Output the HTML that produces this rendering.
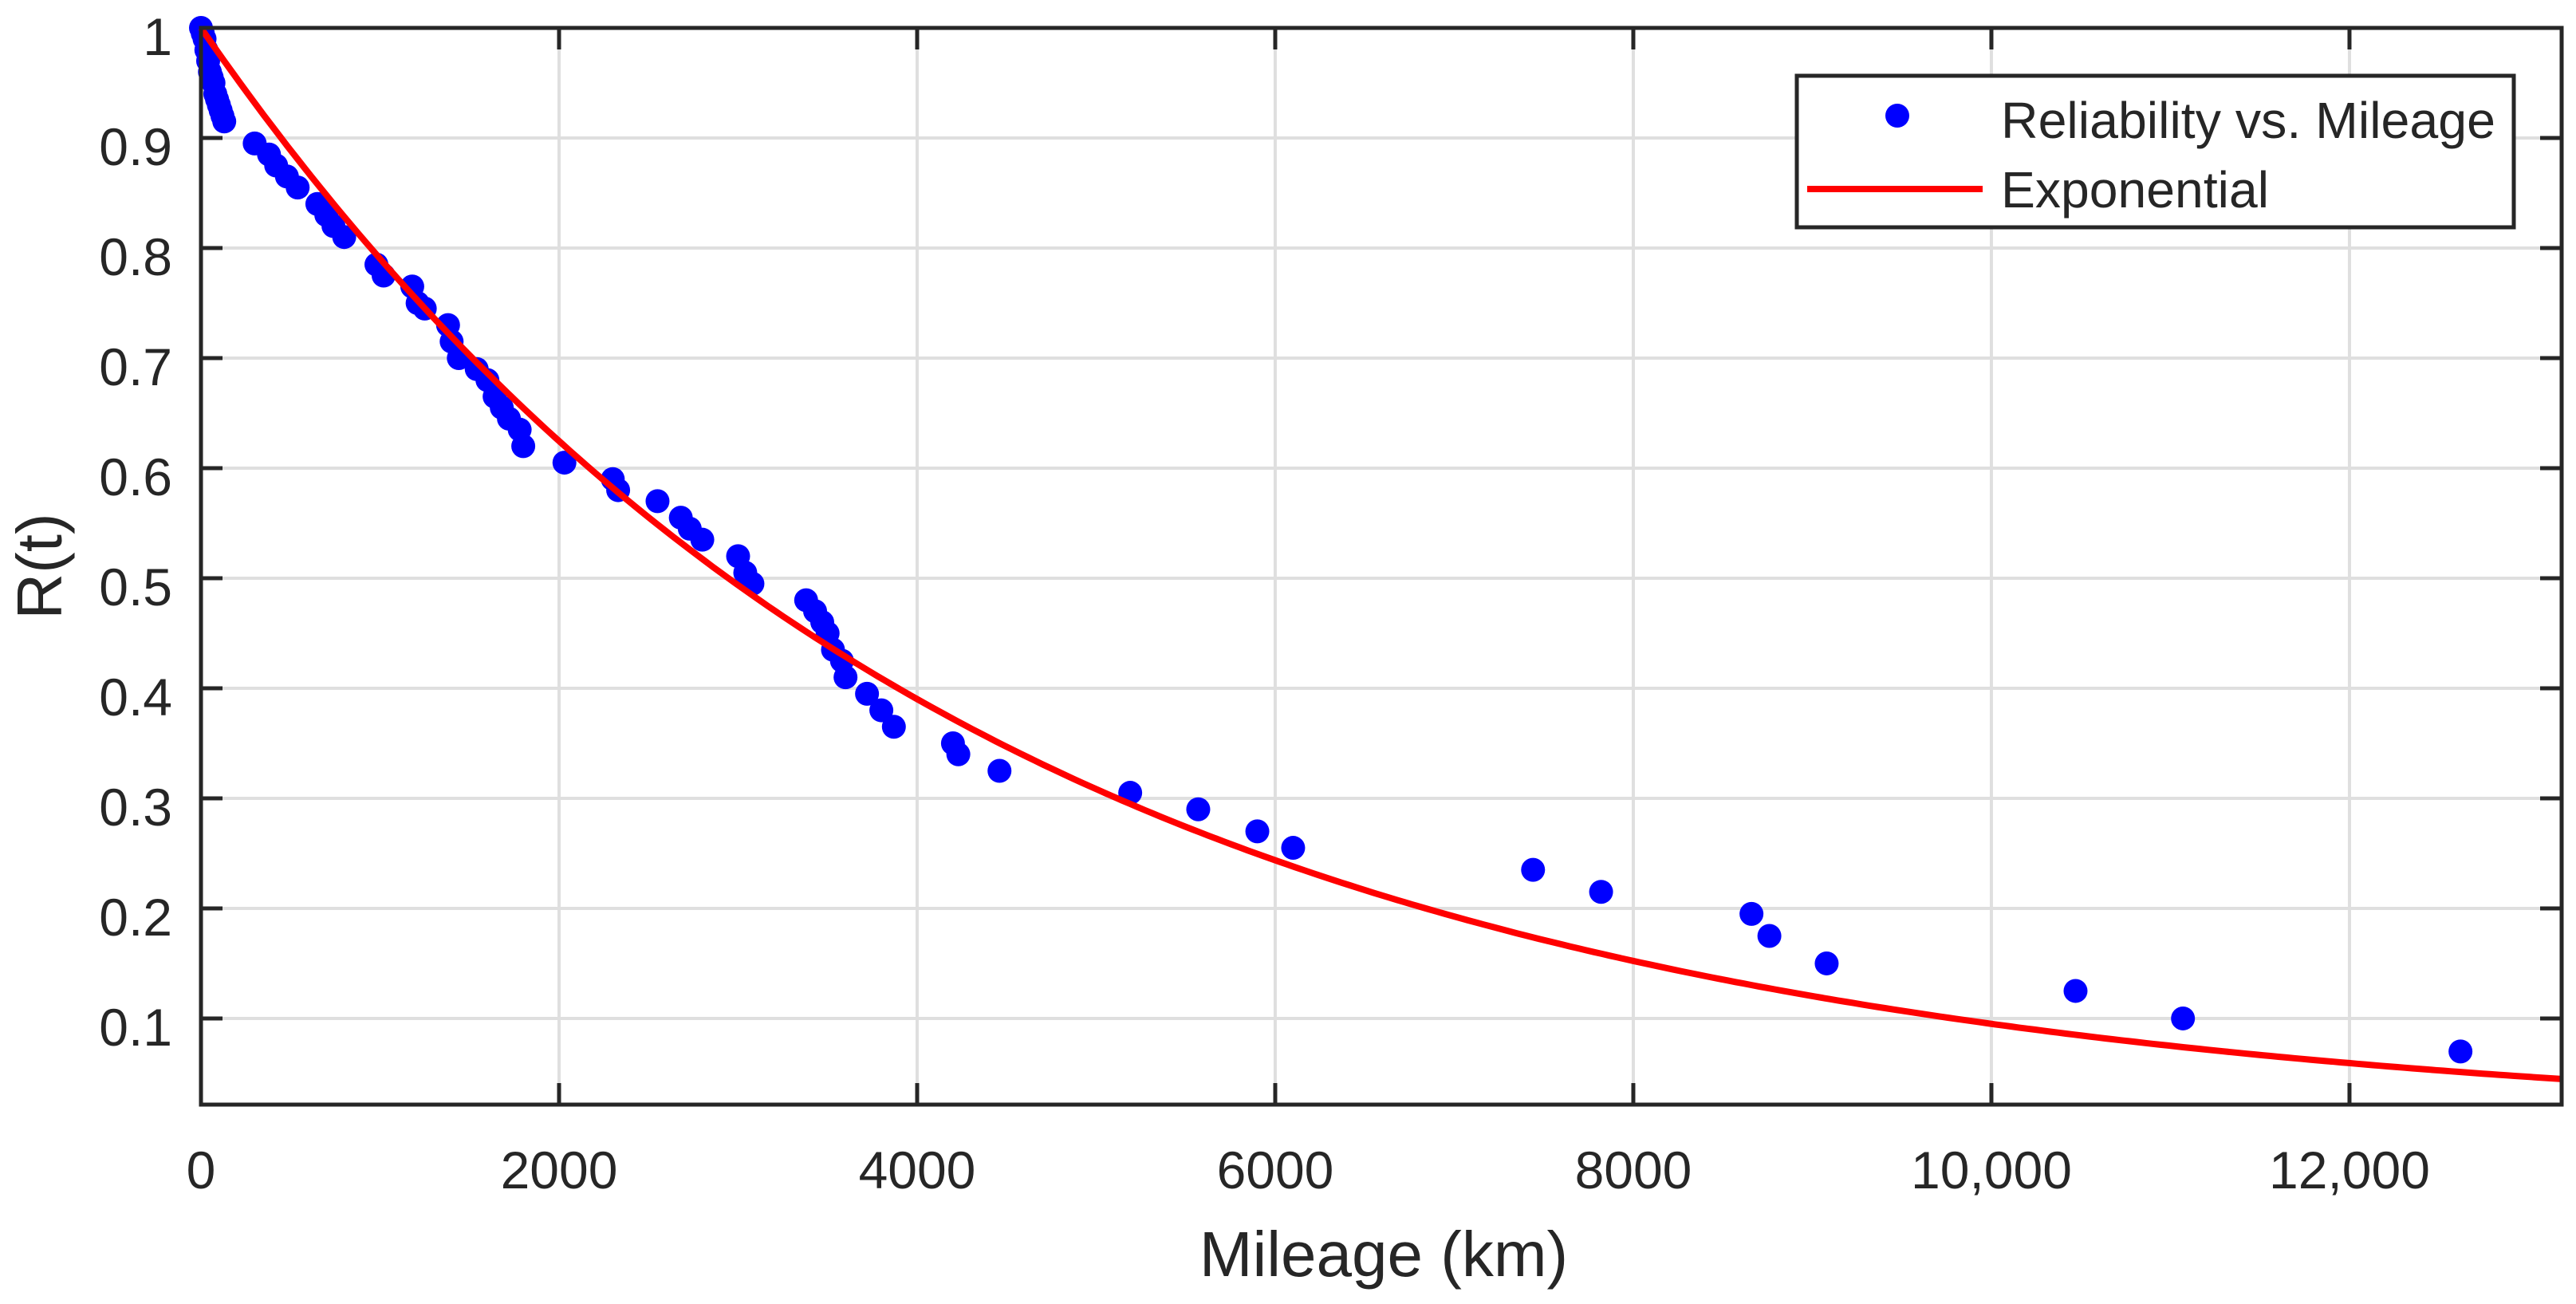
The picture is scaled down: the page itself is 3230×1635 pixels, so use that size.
<!DOCTYPE html>
<html><head><meta charset="utf-8">
<style>html,body{margin:0;padding:0;background:#fff;}svg{display:block;}text{font-family:"Liberation Sans",Arial,sans-serif;fill:#262626;}</style>
</head><body>
<svg id="chart" width="3230" height="1635" viewBox="0 0 3230 1635" xmlns="http://www.w3.org/2000/svg">
<g id="grid"></g>
<g id="series"></g>
<g id="axes"></g>
<text x="1735" y="1600" font-size="80" text-anchor="middle">Mileage (km)</text>
<text x="0" y="0" font-size="80" text-anchor="middle" transform="translate(77,710) rotate(-90)">R(t)</text>
<g>
<rect x="2253" y="95" width="899" height="190" fill="#fff" stroke="#262626" stroke-width="5"/>
<circle cx="2379" cy="145" r="15" fill="#0000ff"/>
<text x="2509" y="173" font-size="64" textLength="620" lengthAdjust="spacingAndGlyphs">Reliability vs. Mileage</text>
<line x1="2266" y1="237" x2="2486" y2="237" stroke="#ff0000" stroke-width="8"/>
<text x="2509" y="260" font-size="64" textLength="336" lengthAdjust="spacingAndGlyphs">Exponential</text>
</g>
</svg>
<script>
const mileage = [0,10,20,30,40,50,60,70,80,90,100,110,120,130,300,380,420,480,540,650,700,740,800,980,1020,1180,1210,1250,1380,1400,1440,1540,1600,1640,1680,1720,1780,1800,2030,2300,2330,2550,2680,2730,2800,3000,3040,3080,3380,3430,3470,3500,3530,3580,3600,3720,3800,3870,4200,4230,4460,5190,5570,5900,6100,7440,7820,8660,8760,9080,10470,11070,12620];
const reliability = [1,0.995,0.99,0.98,0.97,0.96,0.955,0.95,0.94,0.935,0.93,0.925,0.92,0.915,0.895,0.885,0.875,0.865,0.855,0.84,0.83,0.82,0.81,0.785,0.775,0.765,0.75,0.745,0.73,0.715,0.70,0.69,0.68,0.665,0.655,0.645,0.635,0.62,0.605,0.59,0.58,0.57,0.555,0.545,0.535,0.52,0.505,0.495,0.48,0.47,0.46,0.45,0.435,0.425,0.41,0.395,0.38,0.365,0.35,0.34,0.325,0.305,0.29,0.27,0.255,0.235,0.215,0.195,0.175,0.15,0.125,0.10,0.07];
const fitTheta = [4250];
const xTicks = [0,2000,4000,6000,8000,10000,12000];
const xTickLabels = ["0","2000","4000","6000","8000","10,000","12,000"];
const yTicks = [0.1,0.2,0.3,0.4,0.5,0.6,0.7,0.8,0.9,1];
const yTickLabels = ["0.1","0.2","0.3","0.4","0.5","0.6","0.7","0.8","0.9","1"];

const L=252,R=3212,T=35,B=1385,XMIN=0,XMAX=13185,YMIN=0.0217,YMAX=1;
const sx=v=>L+(v-XMIN)/(XMAX-XMIN)*(R-L);
const sy=v=>B-(v-YMIN)/(YMAX-YMIN)*(B-T);
const NS='http://www.w3.org/2000/svg';
function mk(tag,attrs,parent){const e=document.createElementNS(NS,tag);for(const k in attrs)e.setAttribute(k,attrs[k]);parent.appendChild(e);return e;}
const grid=document.getElementById('grid'),series=document.getElementById('series'),axes=document.getElementById('axes');

xTicks.forEach((v,i)=>{
  const x=sx(v);
  const g=mk('line',{x1:x,y1:T,x2:x,y2:B,stroke:'#dfdfdf','stroke-width':4},grid);
  
  
  const t1=mk('line',{x1:x,y1:B,x2:x,y2:B-27,stroke:'#262626','stroke-width':5},axes);
  
  
  const t2=mk('line',{x1:x,y1:T,x2:x,y2:T+27,stroke:'#262626','stroke-width':5},axes);
  
  
  const lb=mk('text',{x:x,y:1490,'font-size':66,'text-anchor':'middle'},axes);
  lb.textContent=xTickLabels[i];
  
  
});
yTicks.forEach((v,i)=>{
  const y=sy(v);
  const g=mk('line',{x1:L,y1:y,x2:R,y2:y,stroke:'#dfdfdf','stroke-width':4},grid);
  
  
  const t1=mk('line',{x1:L,y1:y,x2:L+27,y2:y,stroke:'#262626','stroke-width':5},axes);
  
  
  const t2=mk('line',{x1:R,y1:y,x2:R-27,y2:y,stroke:'#262626','stroke-width':5},axes);
  
  
  const lb=mk('text',{x:216,y:y+34,'font-size':66,'text-anchor':'end'},axes);
  lb.textContent=yTickLabels[i];
  
  
});
const frame=mk('rect',{x:L,y:T,width:R-L,height:B-T,fill:'none',stroke:'#262626','stroke-width':5},axes);



mileage.forEach((m,i)=>{
  const c=mk('circle',{cx:sx(m),cy:sy(reliability[i]),r:15,fill:'#0000ff'},series);
  
  
});
let d='';
for(let k=0;k<=300;k++){const t=XMIN+(XMAX-XMIN)*k/300;const r=Math.exp(-t/fitTheta[0]);d+=(k?'L':'M')+sx(t).toFixed(1)+' '+sy(r).toFixed(1);}
const p=mk('path',{d:d,fill:'none',stroke:'#ff0000','stroke-width':8},series);


</script>
</body></html>
